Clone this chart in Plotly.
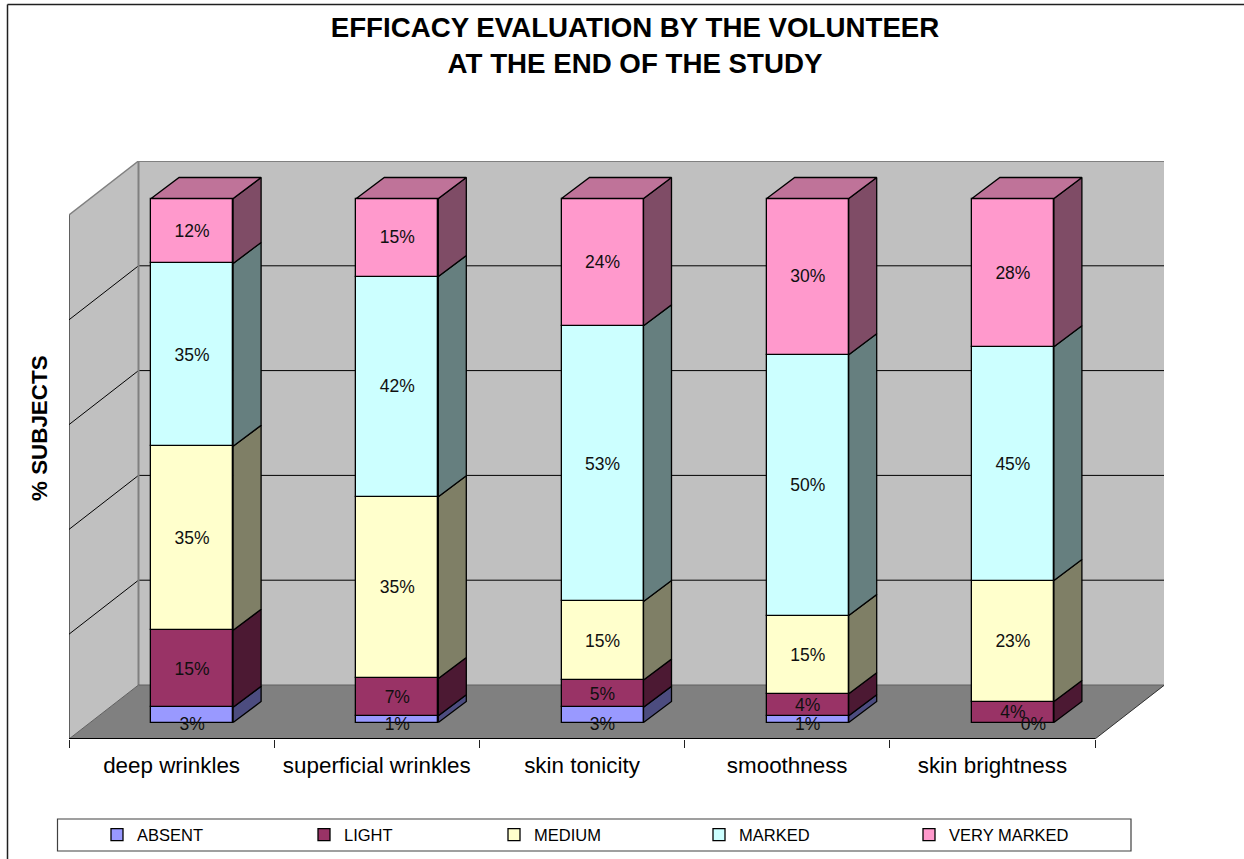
import plotly.graph_objects as go

# ---------- data ----------
CATEGORIES = ["deep wrinkles", "superficial wrinkles", "skin tonicity", "smoothness", "skin brightness"]
SERIES = ["ABSENT", "LIGHT", "MEDIUM", "MARKED", "VERY MARKED"]
ABSENT = [2.9, 1.3, 2.9, 1.3, 0.0]
LIGHT = [14.7, 7.1, 5.2, 4.2, 4.0]
MEDIUM = [35.1, 34.7, 15.0, 14.9, 23.1]
MARKED = [34.9, 42.0, 52.6, 49.8, 44.6]
VERY_MARKED = [12.4, 14.9, 24.3, 29.8, 28.3]
VALUES = [ABSENT, LIGHT, MEDIUM, MARKED, VERY_MARKED]
GRID_TICKS = [0, 20, 40, 60, 80, 100]

# ---------- style ----------
FRONT = ["#9999FF", "#993366", "#FFFFCC", "#CCFFFF", "#FF99CC"]
SIDE = ["#4C4C7F", "#4C1933", "#7F7F66", "#667F7F", "#7F4C66"]
TOP = ["#7373BF", "#73264C", "#BFBF99", "#99BFBF", "#BF7399"]
FONT = "Liberation Sans, Arial, sans-serif"
PX_L, PX_R, PX_T, PX_B = 69.0, 1164.0, 161.0, 739.0
PX_CAT = 205.2
PX_PCT = 5.24
WALL_DX = (138.5 - 69) / PX_CAT
WALL_DY = 54 / PX_PCT
BAR_DX = 28 / PX_CAT
BAR_DY = 21 / PX_PCT
BAR_OFF_X = 0.5 + 20.5 / PX_CAT
BAR_OFF_Y = 16.5 / PX_PCT
BAR_W = 82 / PX_CAT
LABEL_NUDGE = 1.5 / PX_PCT
ABSENT_NUDGE = 3 / PX_PCT
W, H = 1244, 859
PW, PH = PX_R - PX_L, PX_B - PX_T


def paper_x(px):
    return (px - PX_L) / PW


def paper_y(py):
    return (PX_B - py) / PH


n = len(CATEGORIES)
fig = go.Figure()
bases = [0.0] * n
layout_legends = {}
LEGEND_TEXT_PX = [137, 344, 534, 739, 949]

side_traces, top_traces, label_traces = [], [], []
for s, (name, vals) in enumerate(zip(SERIES, VALUES)):
    lname = "legend" if s == 0 else f"legend{s + 1}"
    fig.add_trace(go.Bar(
        x=[i + BAR_OFF_X for i in range(n)], y=vals,
        base=[b + BAR_OFF_Y for b in bases], width=BAR_W, name=name,
        marker=dict(color=FRONT[s], line=dict(color="black", width=1.3)),
        legend=lname, hoverinfo="skip",
    ))
    layout_legends[lname] = dict(
        xref="container", yref="container",
        x=(LEGEND_TEXT_PX[s] - 40) / W, y=1 - 835 / H, xanchor="left", yanchor="middle",
        orientation="h", bgcolor="rgba(0,0,0,0)", borderwidth=0,
        font=dict(family=FONT, size=16.5, color="black"),
    )
    xs, ys = [], []
    tx, ty = [], []
    for i in range(n):
        if vals[i] <= 0:
            continue
        r = i + BAR_OFF_X + BAR_W / 2
        y0 = bases[i] + BAR_OFF_Y
        y1 = y0 + vals[i]
        xs += [r, r + BAR_DX, r + BAR_DX, r, r, None]
        ys += [y0, y0 + BAR_DY, y1 + BAR_DY, y1, y0, None]
    side_traces.append(go.Scatter(
        x=xs, y=ys, mode="lines", fill="toself", fillcolor=SIDE[s],
        line=dict(color="black", width=1.3), showlegend=False, hoverinfo="skip"))
    if s == len(SERIES) - 1:
        for i in range(n):
            l = i + BAR_OFF_X - BAR_W / 2
            r = l + BAR_W
            y1 = bases[i] + vals[i] + BAR_OFF_Y
            tx += [l, l + BAR_DX, r + BAR_DX, r, l, None]
            ty += [y1, y1 + BAR_DY, y1 + BAR_DY, y1, y1, None]
        top_traces.append(go.Scatter(
            x=tx, y=ty, mode="lines", fill="toself", fillcolor=TOP[s],
            line=dict(color="black", width=1.3), showlegend=False, hoverinfo="skip"))
    lx, ly, lt = [], [], []
    for i in range(n):
        small_base = s == 0
        shift = 0.1 if vals[i] == 0 else 0.0
        lx.append(i + BAR_OFF_X + shift)
        if small_base:
            ly.append(BAR_OFF_Y + bases[i] - ABSENT_NUDGE)
        else:
            ly.append(BAR_OFF_Y + bases[i] + vals[i] / 2 - LABEL_NUDGE)
        lt.append(f"{round(vals[i])}%")
    label_traces.append(go.Scatter(
        x=lx, y=ly, text=lt, mode="text", textposition="middle center",
        textfont=dict(family=FONT, size=17.5, color="#101010"),
        showlegend=False, hoverinfo="skip"))
    bases = [b + v for b, v in zip(bases, vals)]

for t in side_traces + top_traces + label_traces:
    fig.add_trace(t)

shapes = []
top_v = GRID_TICKS[-1]
# left wall, back wall, floor
shapes.append(dict(type="path", layer="below", xref="x", yref="y", line=dict(width=0), fillcolor="#C0C0C0",
                   path=f"M0,0 L{WALL_DX},{WALL_DY} L{WALL_DX},{top_v + WALL_DY} L0,{top_v} Z"))
shapes.append(dict(type="path", layer="below", xref="x", yref="y", line=dict(width=0), fillcolor="#C0C0C0",
                   path=f"M{WALL_DX},{WALL_DY} L{n + WALL_DX},{WALL_DY} L{n + WALL_DX},{top_v + WALL_DY} L{WALL_DX},{top_v + WALL_DY} Z"))
shapes.append(dict(type="path", layer="below", xref="x", yref="y", line=dict(width=0), fillcolor="#808080",
                   path=f"M0,0 L{n},0 L{n + WALL_DX},{WALL_DY} L{WALL_DX},{WALL_DY} Z"))


def seg(x0, y0, x1, y1, color="black", width=1.0):
    shapes.append(dict(type="line", layer="below", xref="x", yref="y", x0=x0, y0=y0, x1=x1, y1=y1,
                       line=dict(color=color, width=width)))


for v in GRID_TICKS[1:-1]:
    seg(0, v, WALL_DX, v + WALL_DY)
    seg(WALL_DX, v + WALL_DY, n + WALL_DX, v + WALL_DY)
seg(0, 0, 0, top_v)
seg(0, top_v, WALL_DX, top_v + WALL_DY, "#808080", 1.5)
seg(WALL_DX, top_v + WALL_DY, n + WALL_DX, top_v + WALL_DY, "#808080", 2)
seg(WALL_DX, WALL_DY, WALL_DX, top_v + WALL_DY, "#808080", 2)
seg(n + WALL_DX, WALL_DY, n + WALL_DX, top_v + WALL_DY, "#A0A0A0", 1)
seg(WALL_DX, WALL_DY, n + WALL_DX, WALL_DY, "#606060", 1)
seg(0, 0, WALL_DX, WALL_DY, "#606060", 1)
seg(n, 0, n + WALL_DX, WALL_DY, "#303030", 1)
seg(0, 0, n, 0, "black", 2)

# outer chart frame (open to the right and bottom, as in the reference)
for x0, y0, x1, y1 in [(7.5, 4.5, 7.5, H), (7.5, 4.5, W, 4.5)]:
    shapes.append(dict(type="line", xref="paper", yref="paper", x0=paper_x(x0), y0=paper_y(y0),
                       x1=paper_x(x1), y1=paper_y(y1), line=dict(color="#202020", width=1.5)))
# legend frame
shapes.append(dict(type="rect", xref="paper", yref="paper", x0=paper_x(57.5), y0=paper_y(819), x1=paper_x(1131),
                   y1=paper_y(851), line=dict(color="#404040", width=1.2), fillcolor="rgba(0,0,0,0)"))

fig.update_layout(
    width=W, height=H, autosize=False, barmode="overlay", bargap=0,
    margin=dict(l=PX_L, r=W - PX_R, t=PX_T, b=H - PX_B, pad=0),
    paper_bgcolor="white", plot_bgcolor="rgba(0,0,0,0)",
    font=dict(family=FONT, color="black"),
    title=dict(text="EFFICACY EVALUATION BY THE VOLUNTEER<br>AT THE END OF THE STUDY",
               x=paper_x(635), xref="paper", xanchor="center", y=1 - 37 / H, yanchor="middle",
               font=dict(family=FONT, size=27.7, color="black", weight="bold")),
    xaxis=dict(range=[0, PW / PX_CAT], tickmode="array",
               tickvals=[i + 0.5 for i in range(n)], ticktext=CATEGORIES,
               ticks="outside", ticklen=6, tickcolor="rgba(0,0,0,0)", showgrid=False, zeroline=False,
               showline=False, tickfont=dict(family=FONT, size=22.4, color="black"),
               minor=dict(tickmode="array", tickvals=list(range(n + 1)), ticks="outside", ticklen=8,
                          tickcolor="#202020", tickwidth=1, showgrid=False)),
    yaxis=dict(range=[0, PH / PX_PCT], showticklabels=False, ticks="", showgrid=False, zeroline=False, showline=False),
    shapes=shapes,
    annotations=[dict(text="<b>% SUBJECTS</b>", xref="paper", yref="paper", x=paper_x(39), y=paper_y(428),
                      textangle=-90, showarrow=False, xanchor="center", yanchor="middle",
                      font=dict(family=FONT, size=22.4, color="black"))],
    **layout_legends,
)
fig.write_html("out.html", config={"displayModeBar": False}, post_script="document.body.style.margin='0';")
